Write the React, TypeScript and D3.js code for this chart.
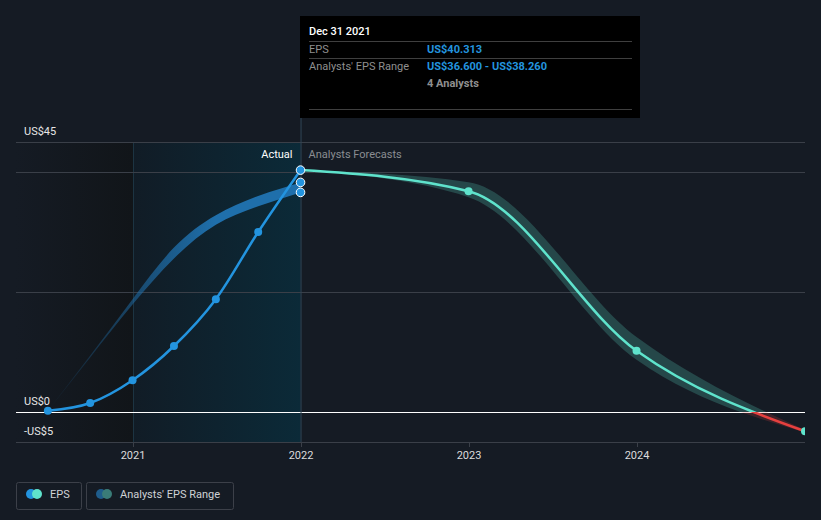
import React from "react";
import * as d3 from "d3";

const actualDates = ["2020-06-30", "2020-09-30", "2020-12-31", "2021-03-31", "2021-06-30", "2021-09-30", "2021-12-31"];
const actualEps = [0.2, 1.5, 5.3, 11.0, 18.8, 30.0, 40.313];
const pastRangeLow = [0.2, 9.1, 17.9, 25.6, 31.2, 34.3, 36.6];
const pastRangeHigh = [0.2, 9.4, 18.8, 27.4, 32.8, 36.0, 38.26];

const forecastDates = ["2021-12-31", "2022-12-31", "2023-12-31", "2024-12-31"];
const forecastEps = [40.313, 36.8, 10.2, -3.2];
const forecastLow = [40.313, 35.8, 8.7, -3.4];
const forecastHigh = [40.313, 38.3, 12.5, -3.0];

const yGridValues = [-5, 0, 20, 40, 45];
const yLabels = [
  { v: 45, t: "US$45" },
  { v: 0, t: "US$0" },
  { v: -5, t: "-US$5" },
];
const xTickYears = ["2021", "2022", "2023", "2024"];

const W = 821;
const H = 520;
const FONT = "Roboto, 'Open Sans', sans-serif";
const BLUE = "#2394df";
const TEAL = "#5fe3cc";
const RED = "#e5403f";

export default function App() {
  const parse = d3.timeParse("%Y-%m-%d");
  const x = d3
    .scaleTime()
    .domain([new Date(2021, 0, 1), new Date(2024, 0, 1)])
    .range([133, 637]);
  const y = d3.scaleLinear().domain([-5, 45]).range([442, 142]);

  const left = 16;
  const right = 805;
  const top = y(45);
  const bottom = y(-5);
  const zeroY = y(0);

  const actual = actualDates.map((d, i) => ({ d: parse(d)!, v: actualEps[i], lo: pastRangeLow[i], hi: pastRangeHigh[i] }));
  const forecast = forecastDates.map((d, i) => ({ d: parse(d)!, v: forecastEps[i], lo: forecastLow[i], hi: forecastHigh[i] }));

  const line = d3
    .line<any>()
    .x((p) => x(p.d))
    .y((p) => y(p.v))
    .curve(d3.curveMonotoneX);
  const area = d3
    .area<any>()
    .x((p) => x(p.d))
    .y0((p) => y(p.lo))
    .y1((p) => y(p.hi))
    .curve(d3.curveMonotoneX);
  const pastArea = d3
    .area<any>()
    .x((p) => x(p.d))
    .y0((p) => y(p.lo))
    .y1((p) => y(p.hi))
    .curve(d3.curveNatural);

  const nowX = x(parse("2021-12-31")!);
  const startX = x(actual[0].d);
  const yr2021 = x(new Date(2021, 0, 1));

  return (
    <svg
      width={W}
      height={H}
      style={{ position: "absolute", left: 0, top: 0, display: "block", background: "#151b24" }}
      fontFamily={FONT}
    >
      <defs>
        <linearGradient id="leftShade" x1="0" x2="1" y1="0" y2="0">
          <stop offset="0" stopColor="#151b24" />
          <stop offset="1" stopColor="#111519" />
        </linearGradient>
        <linearGradient id="pastShade" x1="0" x2="1" y1="0" y2="0">
          <stop offset="0" stopColor="#111c26" />
          <stop offset="1" stopColor="#0b2a38" />
        </linearGradient>
        <linearGradient id="pastBand" gradientUnits="userSpaceOnUse" x1={startX} x2={x(parse("2021-06-30")!)} y1="0" y2="0">
          <stop offset="0" stopColor="#1f6fab" stopOpacity={0.05} />
          <stop offset="1" stopColor="#1f6fab" stopOpacity={1} />
        </linearGradient>
        <clipPath id="plotClip">
          <rect x={left} y={0} width={right - left} height={H} />
        </clipPath>
        <clipPath id="aboveZero">
          <rect x={left} y={0} width={right - left} height={zeroY} />
        </clipPath>
        <clipPath id="belowZero">
          <rect x={left} y={zeroY} width={right - left} height={H - zeroY} />
        </clipPath>
      </defs>

      {/* shaded regions */}
      <rect x={left} y={top} width={yr2021 - left} height={bottom - top} fill="url(#leftShade)" />
      <rect x={yr2021} y={top} width={nowX - yr2021} height={bottom - top} fill="url(#pastShade)" />
      <line x1={yr2021 + 0.5} x2={yr2021 + 0.5} y1={top} y2={bottom} stroke="#1c3442" strokeWidth={1} />

      {/* grid */}
      {yGridValues.map((v) => (
        <line
          key={v}
          x1={left}
          x2={right}
          y1={y(v) + 0.5}
          y2={y(v) + 0.5}
          stroke={v === 0 ? "#ffffff" : "#3a3f48"}
          strokeWidth={1}
        />
      ))}

      {/* x ticks */}
      {xTickYears.map((t) => {
        const xx = x(new Date(+t, 0, 1));
        return (
          <g key={t}>
            <line x1={xx + 0.5} x2={xx + 0.5} y1={bottom} y2={bottom + 5} stroke="#3a3f48" />
            <text x={xx} y={459} textAnchor="middle" fontSize={11} fill="#dcdcdc">
              {t}
            </text>
          </g>
        );
      })}

      {/* y labels */}
      {yLabels.map((l) => (
        <text key={l.t} x={24} y={y(l.v) - 7} fontSize={11} fill="#e6e6e6">
          {l.t}
        </text>
      ))}

      {/* now line */}
      <line x1={nowX + 0.5} x2={nowX + 0.5} y1={16} y2={bottom} stroke="#2f4656" strokeWidth={1} />

      <text x={nowX - 8} y={158} textAnchor="end" fontSize={11} fill="#ffffff">
        Actual
      </text>
      <text x={nowX + 8} y={158} fontSize={11} fill="#8a8d92">
        Analysts Forecasts
      </text>

      <g clipPath="url(#plotClip)">
        {/* past band */}
        <path d={pastArea(actual) || ""} fill="url(#pastBand)" />

        {/* forecast band */}
        <g clipPath="url(#aboveZero)">
          <path d={area(forecast) || ""} fill={TEAL} fillOpacity={0.22} />
          <path d={line(forecast) || ""} fill="none" stroke={TEAL} strokeWidth={2.5} />
        </g>
        <g clipPath="url(#belowZero)">
          <path d={area(forecast) || ""} fill={RED} fillOpacity={0.2} />
          <path d={line(forecast) || ""} fill="none" stroke={RED} strokeWidth={2.5} />
        </g>

        {/* actual line */}
        <path d={line(actual) || ""} fill="none" stroke={BLUE} strokeWidth={2.5} />
        {actual.slice(0, -1).map((p, i) => (
          <circle key={i} cx={x(p.d)} cy={y(p.v)} r={4} fill={BLUE} />
        ))}

        {forecast.slice(1).map((p, i) => (
          <circle key={i} cx={x(p.d)} cy={y(p.v)} r={4} fill={TEAL} />
        ))}

        {/* highlighted points at now */}
        {[actual[6].lo, actual[6].hi].map((v, i) => (
          <circle key={i} cx={nowX} cy={y(v)} r={4.3} fill={BLUE} stroke="#ffffff" strokeWidth={1} />
        ))}
        <circle cx={nowX} cy={y(actual[6].v)} r={4.3} fill={BLUE} stroke="#ffffff" strokeWidth={1} />
      </g>

      {/* tooltip */}
      <g>
        <rect x={300} y={16} width={340} height={102} fill="#000000" />
        <text x={309} y={35} fontSize={11} fill="#ffffff" fontWeight={500}>
          Dec 31 2021
        </text>
        <line x1={309} x2={632} y1={41.5} y2={41.5} stroke="#3f3f3f" />
        <text x={309} y={53} fontSize={11} fill="#8f8f8f">
          EPS
        </text>
        <text x={427} y={53} fontSize={11} fill={BLUE} fontWeight={700}>
          US$40.313
        </text>
        <line x1={309} x2={632} y1={58.5} y2={58.5} stroke="#3f3f3f" />
        <text x={309} y={70} fontSize={11} fill="#8f8f8f">
          Analysts' EPS Range
        </text>
        <text x={427} y={70} fontSize={11} fill={BLUE} fontWeight={700}>
          US$36.600 - US$38.260
        </text>
        <text x={427} y={87} fontSize={11} fill="#8f8f8f" fontWeight={700}>
          4 Analysts
        </text>
        <line x1={309} x2={632} y1={109.5} y2={109.5} stroke="#3f3f3f" />
      </g>

      {/* legend */}
      <g>
        <rect x={16.5} y={482.5} width={65} height={27} rx={2} fill="none" stroke="#3c4049" />
        <circle cx={31} cy={494} r={5} fill={BLUE} />
        <circle cx={37} cy={494} r={5} fill={TEAL} />
        <text x={50} y={498} fontSize={11} fill="#cfd2d6">
          EPS
        </text>
        <rect x={86.5} y={482.5} width={147} height={27} rx={2} fill="none" stroke="#3c4049" />
        <circle cx={101} cy={494} r={5} fill="#1f5d8c" />
        <circle cx={107} cy={494} r={5} fill="#3a7c78" />
        <text x={120} y={498} fontSize={11} fill="#cfd2d6">
          Analysts' EPS Range
        </text>
      </g>
    </svg>
  );
}
